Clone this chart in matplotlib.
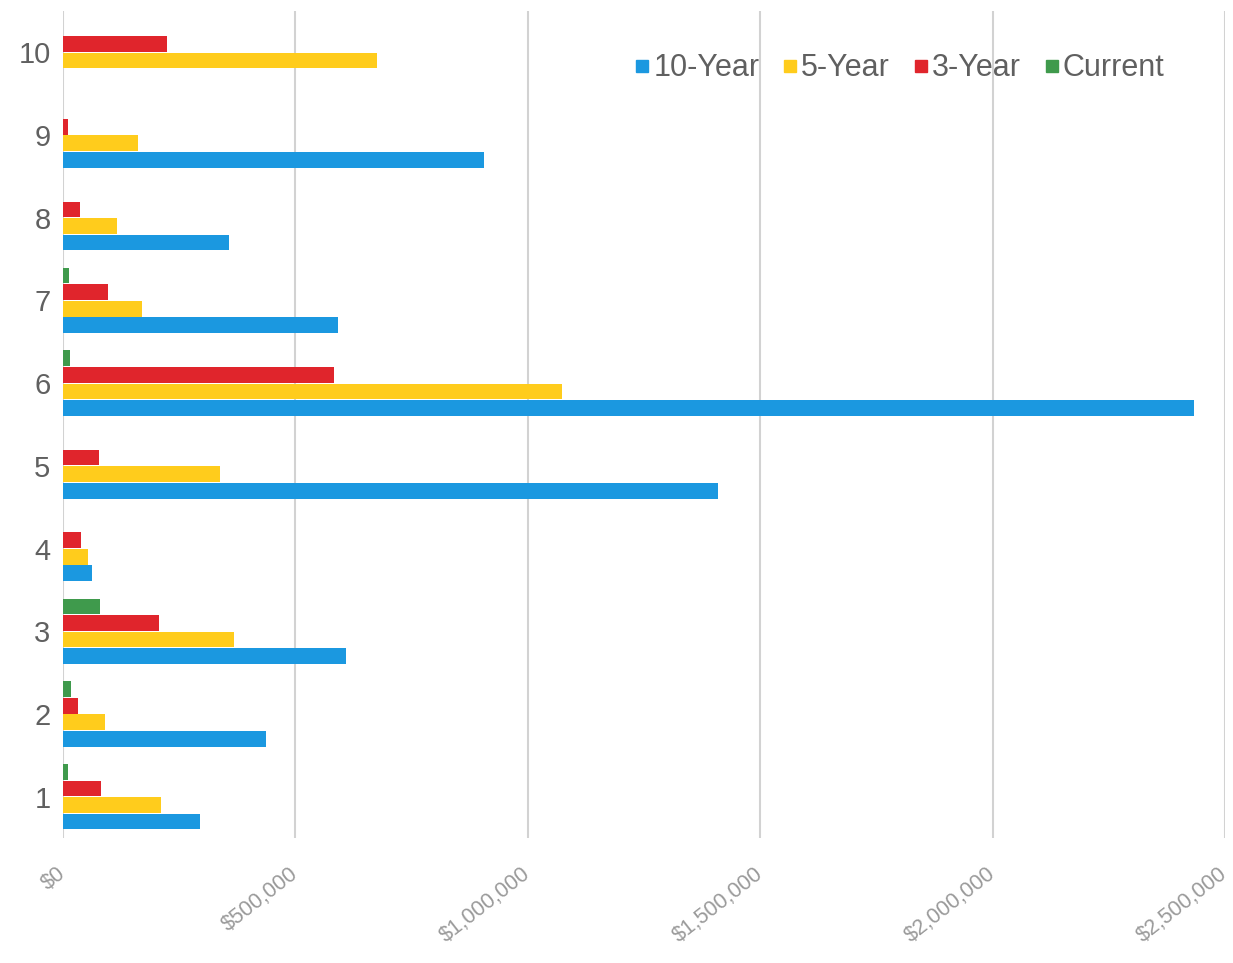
import matplotlib.pyplot as plt
import numpy as np
from matplotlib.lines import Line2D
from matplotlib.ticker import FuncFormatter, MultipleLocator

plt.rcParams['font.family'] = ['Liberation Sans', 'DejaVu Sans']

cases = [1, 2, 3, 4, 5, 6, 7, 8, 9, 10]
ten_year = [294000, 436000, 609000, 62000, 1410000, 2434000, 592000, 358000, 906000, 0]
five_year = [210000, 90000, 367000, 54000, 337000, 1073000, 170000, 116000, 161000, 676000]
three_year = [82000, 32000, 206000, 39000, 77000, 582000, 97000, 36000, 10000, 223000]
current = [11000, 17000, 79000, 0, 0, 15000, 13000, 0, 0, 0]

names = ['10-Year', '5-Year', '3-Year', 'Current']
colors = ['#1b98e0', '#ffcc1c', '#e0252c', '#3f9a4c']
series = [ten_year, five_year, three_year, current]

fig = plt.figure(figsize=(12.33, 9.63), dpi=100)
ax = fig.add_axes([0.0511, 0.1298, 0.9424, 0.8588])

y = np.array(cases, dtype=float)
h = 0.2
for k in range(4):
    ax.barh(y + (k - 1.5) * h, series[k], height=0.19, color=colors[k], zorder=3)

ax.set_xlim(0, 2500000)
ax.set_ylim(0.5, 10.5)
ax.xaxis.set_major_locator(MultipleLocator(500000))
ax.xaxis.set_major_formatter(FuncFormatter(lambda v, p: '${:,.0f}'.format(v)))
ax.set_yticks(cases)
ax.grid(axis='x', color='#d2d2d2', linewidth=1.5, zorder=0)
for s in ax.spines.values():
    s.set_visible(False)
ax.tick_params(axis='y', length=0, pad=9, labelsize=21, labelcolor='#606060')
ax.tick_params(axis='x', length=0, pad=24, labelsize=15.5, labelcolor='#9a9a9a')
for t in ax.get_xticklabels():
    t.set_rotation(38)
    t.set_ha('right')
    t.set_va('center')
    t.set_rotation_mode('anchor')

handles = [Line2D([], [], marker='s', linestyle='none', markersize=8.5,
                  color=c) for c in colors]
fig.legend(handles, names, loc='center', bbox_to_anchor=(0.7295, 0.929),
           ncol=4, frameon=False, fontsize=22, handlelength=0.5,
           handletextpad=0.12, columnspacing=0.75, labelcolor='#606060')

fig.savefig('out.png', dpi=100)
